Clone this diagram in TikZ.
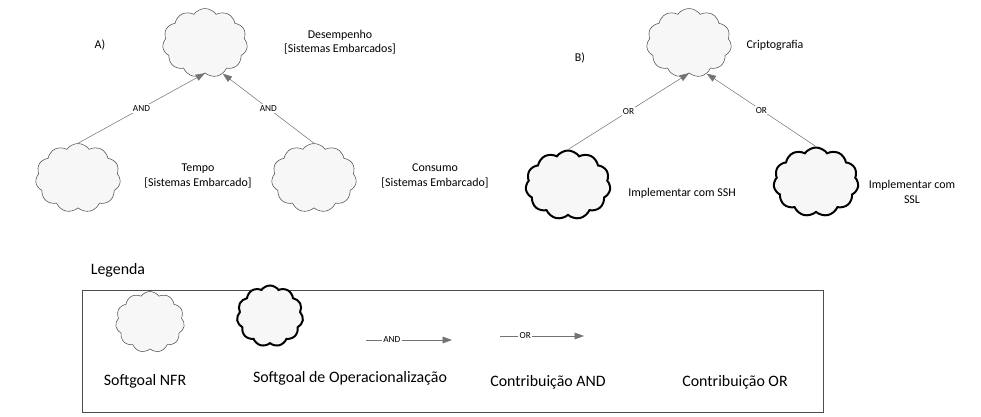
\documentclass[tikz,border=0pt]{standalone}
\usepackage{fontspec}
\setmainfont{Carlito}
\usetikzlibrary{shapes.symbols,arrows.meta}
\begin{document}
\begin{tikzpicture}[x=0.0265cm,y=-0.0265cm]

    \tikzset{
      nfr/.style={
        cloud, cloud puffs=11, cloud puff arc=110, aspect=1.3,
        draw=black!70, fill=gray!6, inner sep=0pt,
        minimum width=64, minimum height=52,
      },
      oper/.style={nfr, draw=black, line width=1.5pt},
      contrib/.style={draw=black!55, -{Triangle[length=7pt,width=5pt]}},
      lbl/.style={font=\scriptsize, fill=white, inner sep=1pt},
      txt/.style={font=\small, align=center},
      legtxt/.style={font=\large},
    }
    \useasboundingbox (0,0) rectangle (981,417);

	% A)
	\node[txt] (la) at (100,45) {A)};
	\node[nfr] (desemp) at (205,43) {};
	\node[txt] (tdesemp) at (340,42) {Desempenho\\{}[Sistemas Embarcados]};
	\node[nfr] (tempo) at (78,178) {};
	\node[txt] (ttempo) at (198,176) {Tempo\\{}[Sistemas Embarcado]};
	\node[nfr] (consumo) at (314,178) {};
	\node[txt] (tconsumo) at (435,176) {Consumo\\{}[Sistemas Embarcado]};
	\draw[contrib] (tempo.north) -- node[lbl] {AND} (desemp.south);
	\draw[contrib] (consumo.north) -- node[lbl] {AND} (desemp.-60);

	% B)
	\node[txt] (lb) at (580,58) {B)};
	\node[nfr] (cripto) at (689,43) {};
	\node[txt] (tcripto) at (775,45) {Criptografia};
	\node[oper] (ssh) at (568,185) {};
	\node[txt] (tssh) at (682,193) {Implementar com SSH};
	\node[oper] (ssl) at (816,182) {};
	\node[txt] (tssl) at (912,192) {Implementar com\\SSL};
	\draw[contrib] (ssh.north) -- node[lbl] {OR} (cripto.south);
	\draw[contrib] (ssl.north) -- node[lbl] {OR} (cripto.-60);

	% Legenda
	\node[legtxt] (leg) at (118,270) {Legenda};
	\draw[black!70] (82,290) rectangle (823,412);
	\node[nfr, aspect=1.15, minimum width=52, minimum height=46] (lnfr) at (150,322) {};
	\node[legtxt] (tnfr) at (145,381) {Softgoal NFR};
	\node[oper, aspect=1.15, minimum width=50, minimum height=46] (loper) at (270,316) {};
	\node[legtxt] (toper) at (350,378) {Softgoal de Operacionalização};
	\coordinate (and1) at (366,340);
	\coordinate (and2) at (452,340);
	\draw[contrib] (and1) -- node[lbl, pos=0.3] {AND} (and2);
	\node[legtxt] (tand) at (548,382) {Contribuição AND};
	\coordinate (or1) at (500,336);
	\coordinate (or2) at (584,336);
	\draw[contrib] (or1) -- node[lbl, pos=0.3] {OR} (or2);
	\node[legtxt] (tor) at (735,382) {Contribuição OR};

\end{tikzpicture}
\end{document}
